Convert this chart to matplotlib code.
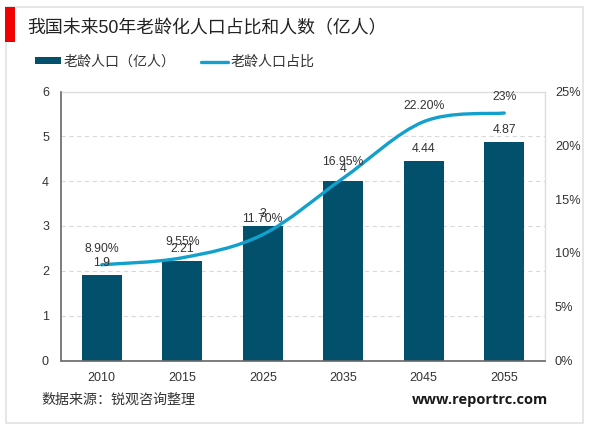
import matplotlib
matplotlib.use("Agg")
import matplotlib.pyplot as plt
from matplotlib.lines import Line2D
from matplotlib.patches import Rectangle, PathPatch
from matplotlib.path import Path

plt.rcParams['font.family'] = ['Liberation Sans', 'Noto Sans CJK SC', 'DejaVu Sans']

years = ['2010', '2015', '2025', '2035', '2045', '2055']
people = [1.9, 2.21, 3, 4, 4.44, 4.87]
people_labels = ['1.9', '2.21', '3', '4', '4.44', '4.87']
share = [8.9, 9.55, 11.7, 16.95, 22.2, 23]
share_labels = ['8.90%', '9.55%', '11.70%', '16.95%', '22.20%', '23%']

TITLE = '我国未来50年老龄化人口占比和人数（亿人）'
LEG1 = '老龄人口（亿人）'
LEG2 = '老龄人口占比'
SOURCE = '数据来源：锐观咨询整理'
SITE = 'www.reportrc.com'

BAR = '#02506C'
LINE = '#12A0CC'
TXT = '#333333'
W, H = 600, 430

fig = plt.figure(figsize=(W / 100, H / 100), dpi=100, facecolor='white')

def fx(x): return x / W
def fy(y): return 1 - y / H

# outer frame and red marker
fig.add_artist(Rectangle((fx(5.5), fy(423)), (583 - 5.5) / W, (423 - 7) / H, transform=fig.transFigure,
                         fill=False, ec='#E2E2E2', lw=1.2))
fig.add_artist(Rectangle((fx(5), fy(42)), 10 / W, 35 / H, transform=fig.transFigure,
                         fc='#F00000', ec='none'))

ax = fig.add_axes([fx(61.5), fy(360.5), (544.5 - 61.5) / W, (360.5 - 91.5) / H])
ax.set_xlim(-0.5, 5.5)
ax.set_ylim(0, 6)
ax.set_yticks(range(7))
ax.set_xticks(range(6))
ax.set_xticklabels(years)
ax.tick_params(axis='both', length=0, labelsize=9, colors=TXT)
ax.tick_params(axis='x', pad=8)
ax.tick_params(axis='y', pad=9)
ax.grid(axis='y', color='#D9D9D9', ls=(0, (4, 3)), lw=0.8)
ax.set_axisbelow(True)
for s in ['top', 'right']:
    ax.spines[s].set_color('#DDDDDD')
    ax.spines[s].set_linewidth(1)
for s in ['left', 'bottom']:
    ax.spines[s].set_color('#666666')
    ax.spines[s].set_linewidth(1.2)

ax.bar(range(6), people, width=0.5, color=BAR, zorder=2)

ax2 = ax.twinx()
ax2.set_ylim(0, 25)
ax2.set_yticks(range(0, 30, 5))
ax2.set_yticklabels([f'{v}%' for v in range(0, 30, 5)])
ax2.tick_params(axis='y', length=0, labelsize=9.2, colors=TXT, pad=7.5)
for s in ax2.spines.values():
    s.set_visible(False)

# smoothed line through the data points (Catmull-Rom style Bezier, as in Excel)
n = len(share)
verts = [(0, share[0])]
codes = [Path.MOVETO]
for i in range(n - 1):
    p0 = share[max(i - 1, 0)]
    p1 = share[i]
    p2 = share[i + 1]
    p3 = share[min(i + 2, n - 1)]
    x0 = max(i - 1, 0)
    x3 = min(i + 2, n - 1)
    verts += [(i + (i + 1 - x0) / 6, p1 + (p2 - p0) / 6),
              (i + 1 - (x3 - i) / 6, p2 - (p3 - p1) / 6),
              (i + 1, p2)]
    codes += [Path.CURVE4] * 3
ax2.add_patch(PathPatch(Path(verts, codes), fill=False, ec=LINE, lw=2.4, capstyle='round', zorder=3))

for i, v in enumerate(people):
    ax2.annotate(people_labels[i], (i, v * 25 / 6), xytext=(0, 4.5), textcoords='offset points',
                 ha='center', va='bottom', fontsize=8.8, color=TXT, zorder=5)
for i, v in enumerate(share):
    ax2.annotate(share_labels[i], (i, v), xytext=(0, 7), textcoords='offset points',
                 ha='center', va='bottom', fontsize=8.8, color=TXT, zorder=5)

# title, legend, footer
fig.text(fx(27), fy(29), TITLE, fontsize=12.9, color='#222222', ha='left', va='center')
fig.add_artist(Rectangle((fx(35), fy(64)), 26 / W, 7 / H, transform=fig.transFigure, fc=BAR, ec='none'))
fig.text(fx(64), fy(62), LEG1, fontsize=10.1, color=TXT, ha='left', va='center')
fig.add_artist(Line2D([fx(201), fx(228)], [fy(61.5), fy(61.5)], color=LINE, lw=2.4,
                      solid_capstyle='round', transform=fig.transFigure))
fig.text(fx(231), fy(62), LEG2, fontsize=10.1, color=TXT, ha='left', va='center')
fig.text(fx(41), fy(400), SOURCE, fontsize=10.1, color=TXT, ha='left', va='center')
fig.text(fx(548), fy(400), SITE, fontsize=10.5, fontweight='bold', color='#1A1A1A', ha='right', va='center',
         family=['Open Sans', 'DejaVu Sans'])

fig.savefig('out.png', dpi=100, facecolor='white')
